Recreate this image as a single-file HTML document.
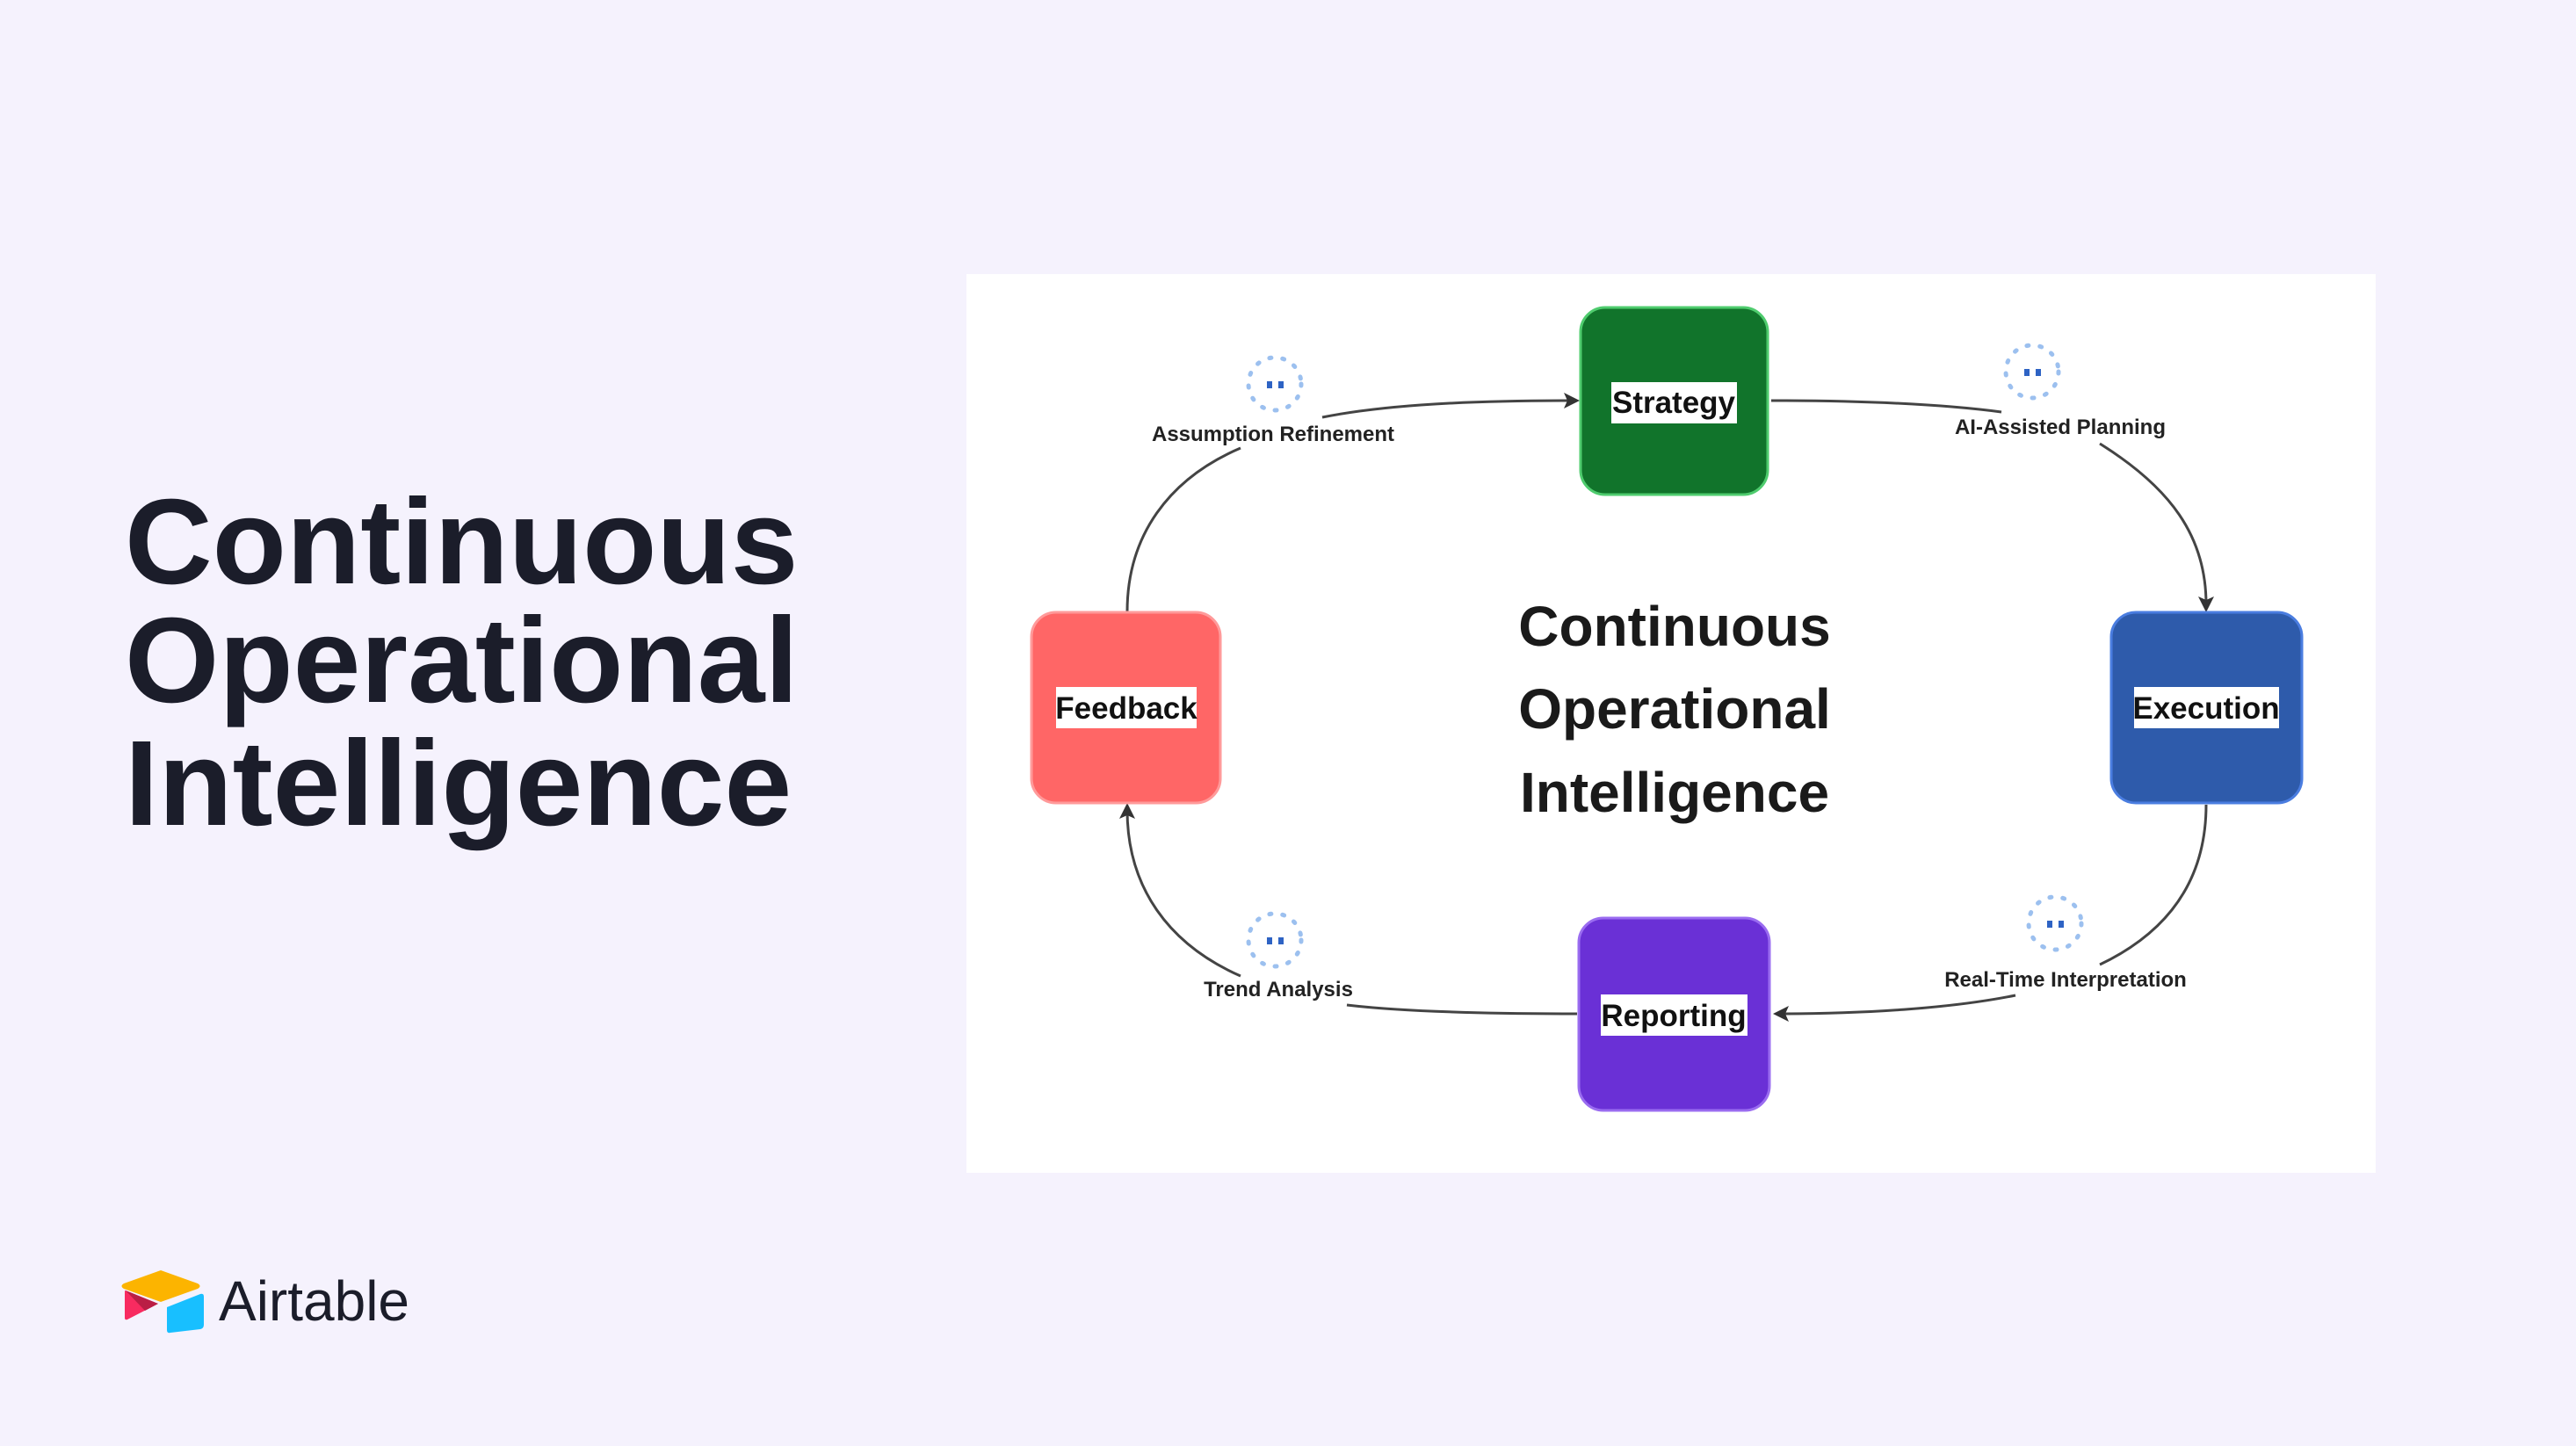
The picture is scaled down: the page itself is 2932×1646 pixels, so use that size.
<!DOCTYPE html>
<html><head><meta charset="utf-8"><style>
html,body{margin:0;padding:0}
body{width:2932px;height:1646px;background:#f5f2fd;position:relative;overflow:hidden;font-family:"Liberation Sans",sans-serif}
.t{position:absolute;left:142px;color:#1b1d2a;font-weight:700;font-size:138px;letter-spacing:0px;line-height:1}
</style></head><body>
<div class="t" style="top:548px">Continuous</div>
<div class="t" style="top:683px">Operational</div>
<div class="t" style="top:823px">Intelligence</div>

<svg width="2932" height="1646" style="position:absolute;left:0;top:0" xmlns="http://www.w3.org/2000/svg">
<rect x="1100" y="312" width="1604" height="1023" fill="#ffffff"/>

<g fill="none" stroke="#444" stroke-width="3">
<path d="M1283 696 C1283 610 1330 545 1412 510"/>
<path d="M1505 475 C1580 460 1680 456 1790 456"/>
<path d="M2016 456 C2120 456 2210 460 2278 469"/>
<path d="M2390 505 C2470 555 2511 610 2511 688"/>
<path d="M2511 916 C2511 1000 2470 1060 2390 1098"/>
<path d="M2294 1133 C2220 1148 2120 1154 2026 1154"/>
<path d="M1795 1154 C1700 1154 1600 1152 1533 1144"/>
<path d="M1412 1111 C1330 1075 1283 1010 1283 922"/>
</g>
<g fill="#333">
<path d="M1798 456 l-18 -9 l4 9 l-4 9z"/>
<path d="M2511 697 l-9 -18 l9 4 l9 -4z"/>
<path d="M2018 1154 l18 -9 l-4 9 l4 9z"/>
<path d="M1283 914 l-9 18 l9 -4 l9 4z"/>
</g>

<g font-family="Liberation Sans, sans-serif" font-weight="700" font-size="24" fill="#222" text-anchor="middle">
<text x="1449" y="502">Assumption Refinement</text>
<text x="2345" y="494">AI-Assisted Planning</text>
<text x="2351" y="1123">Real-Time Interpretation</text>
<text x="1455" y="1134">Trend Analysis</text>
</g>

<g fill="none" stroke="#9cc0ef" stroke-width="5" stroke-dasharray="2 13" stroke-linecap="round">
<circle cx="1451" cy="437" r="30"/>
<circle cx="2313" cy="423" r="30"/>
<circle cx="2339" cy="1051" r="30"/>
<circle cx="1451" cy="1070" r="30"/>
</g>
<g fill="#2e63c4">
<rect x="1442" y="434" width="6" height="8"/><rect x="1455" y="434" width="6" height="8"/>
<rect x="2304" y="420" width="6" height="8"/><rect x="2317" y="420" width="6" height="8"/>
<rect x="2330" y="1048" width="6" height="8"/><rect x="2343" y="1048" width="6" height="8"/>
<rect x="1442" y="1067" width="6" height="8"/><rect x="1455" y="1067" width="6" height="8"/>
</g>

<rect x="1799" y="350" width="213" height="213" rx="28" fill="#11742b" stroke="#4fcc6e" stroke-width="3"/>
<rect x="1174" y="697" width="215" height="217" rx="28" fill="#ff6666" stroke="#ff9a9a" stroke-width="3"/>
<rect x="2403" y="697" width="217" height="217" rx="28" fill="#2e5bab" stroke="#4a7de0" stroke-width="3"/>
<rect x="1797" y="1045" width="217" height="219" rx="28" fill="#6a30d6" stroke="#9a6cf0" stroke-width="3"/>

<g fill="#fff">
<rect x="1834" y="435" width="143" height="47"/>
<rect x="1202" y="782" width="160" height="47"/>
<rect x="2429" y="782" width="165" height="47"/>
<rect x="1822" y="1132" width="167" height="47"/>
</g>
<g font-family="Liberation Sans, sans-serif" font-weight="700" font-size="35" fill="#111" text-anchor="middle">
<text x="1905" y="470">Strategy</text>
<text x="1282" y="818">Feedback</text>
<text x="2511" y="818">Execution</text>
<text x="1905" y="1168">Reporting</text>
</g>

<g font-family="Liberation Sans, sans-serif" font-weight="700" font-size="64" fill="#1a1a1a" text-anchor="middle">
<text x="1906" y="735">Continuous</text>
<text x="1906" y="829">Operational</text>
<text x="1906" y="924">Intelligence</text>
</g>

<path d="M183 1446 L225 1461 Q230 1464 225 1467 L183 1482 L141 1467 Q136 1464 141 1461 Z" fill="#fcb400"/>
<path d="M190 1488 L228 1473 Q232 1472 232 1476 L232 1508 Q232 1512 228 1513 L194 1517 Q190 1518 190 1514 Z" fill="#18bfff"/>
<path d="M143 1469 L180 1484 L145 1502 Q142 1503 142 1500 L142 1472 Q142 1468 143 1469 Z" fill="#f82b60"/>
<path d="M143 1469 L180 1484 L165 1492 Z" fill="#ba1e45"/>
<text x="249" y="1503" font-family="Liberation Sans, sans-serif" font-size="64" font-weight="400" fill="#1b1d2a">Airtable</text>
</svg>
</body></html>
